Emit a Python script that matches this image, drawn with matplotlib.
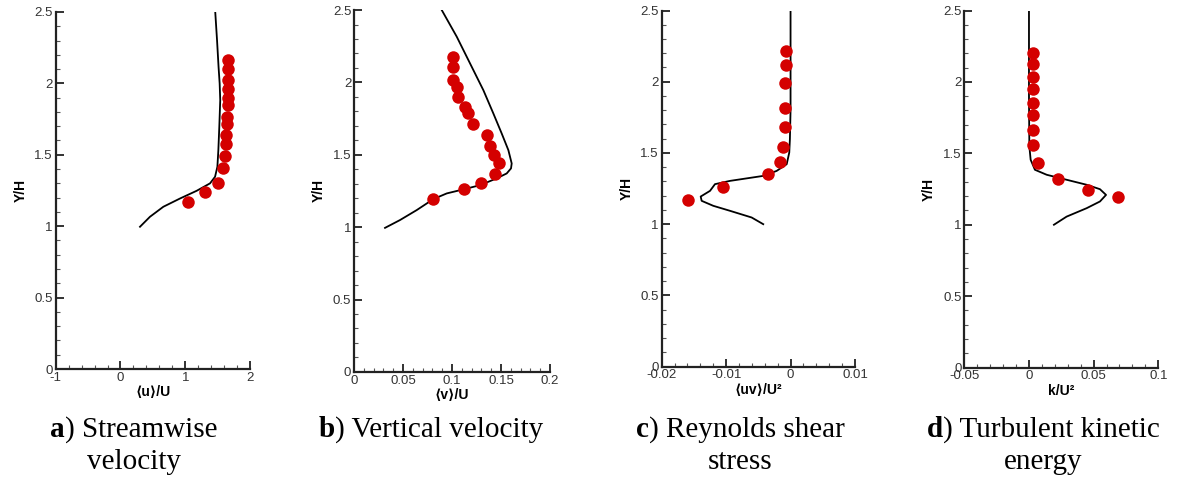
import numpy as np
import matplotlib
matplotlib.use("Agg")
import matplotlib.pyplot as plt
from matplotlib.ticker import MultipleLocator

plt.rcParams['font.family'] = ['Liberation Sans', 'DejaVu Sans']

# a) streamwise velocity
u_exp_x = [1.657, 1.657, 1.657, 1.657, 1.657, 1.657, 1.642, 1.642, 1.626, 1.626, 1.606, 1.575, 1.498, 1.302, 1.045]
u_exp_y = [2.167, 2.104, 2.027, 1.964, 1.901, 1.848, 1.767, 1.715, 1.638, 1.573, 1.494, 1.405, 1.305, 1.240, 1.172]
u_sim_x = [0.301, 0.455, 0.661, 0.919, 1.176, 1.382, 1.459, 1.495, 1.510, 1.525, 1.539, 1.530, 1.513, 1.490, 1.462]
u_sim_y = [0.996, 1.066, 1.136, 1.194, 1.248, 1.300, 1.346, 1.416, 1.532, 1.70, 1.883, 2.00, 2.116, 2.30, 2.50]

# b) vertical velocity
v_exp_x = [0.1007, 0.1014, 0.1007, 0.1048, 0.1058, 0.1133, 0.1160, 0.1211, 0.1354, 0.1388, 0.1429, 0.1483, 0.1439, 0.1293, 0.1122, 0.0810]
v_exp_y = [2.177, 2.108, 2.016, 1.965, 1.901, 1.832, 1.786, 1.712, 1.636, 1.562, 1.498, 1.440, 1.366, 1.306, 1.267, 1.194]
v_sim_x = [0.0316, 0.0469, 0.0640, 0.0810, 0.0946, 0.1116, 0.1286, 0.1456, 0.1558, 0.1602, 0.1609, 0.1575, 0.1507, 0.1422, 0.1320, 0.1184, 0.1048, 0.0895]
v_sim_y = [0.995, 1.049, 1.118, 1.194, 1.233, 1.261, 1.290, 1.337, 1.371, 1.406, 1.440, 1.532, 1.647, 1.785, 1.946, 2.131, 2.316, 2.50]

# c) Reynolds shear stress
uv_exp_x = [-0.00071, -0.00071, -0.00081, -0.00086, -0.00086, -0.00123, -0.00164, -0.00345, -0.01053, -0.01586]
uv_exp_y = [2.219, 2.118, 1.990, 1.814, 1.685, 1.545, 1.440, 1.353, 1.264, 1.170]
uv_sim_x = [-0.00424, -0.00604, -0.00941, -0.0120, -0.0138, -0.01395, -0.0125, -0.01173, -0.0094, -0.00424, -0.00216, -0.0006, -0.0002, -0.0001, 0.0, 0.0]
uv_sim_y = [1.0, 1.047, 1.094, 1.129, 1.164, 1.194, 1.234, 1.281, 1.304, 1.339, 1.374, 1.421, 1.503, 1.598, 1.80, 2.50]

# d) turbulent kinetic energy
k_exp_x = [0.0034, 0.0034, 0.0034, 0.0034, 0.0034, 0.0034, 0.0034, 0.0034, 0.0072, 0.0222, 0.0454, 0.0691]
k_exp_y = [2.201, 2.124, 2.038, 1.949, 1.851, 1.769, 1.664, 1.559, 1.431, 1.319, 1.244, 1.197]
k_sim_x = [0.0193, 0.0291, 0.0446, 0.0549, 0.0596, 0.0549, 0.0446, 0.0291, 0.0137, 0.0046, 0.0013, 0.0003, 0.0, 0.0]
k_sim_y = [1.0, 1.057, 1.116, 1.163, 1.209, 1.249, 1.280, 1.315, 1.350, 1.385, 1.455, 1.548, 1.90, 2.50]

panels = [
    (u_sim_x, u_sim_y, u_exp_x, u_exp_y, (-1, 2), 1, 0.2, "\u27e8u\u27e9/U", "Streamwise\nvelocity", "a"),
    (v_sim_x, v_sim_y, v_exp_x, v_exp_y, (0, 0.2), 0.05, 0.01, "\u27e8v\u27e9/U", "Vertical velocity", "b"),
    (uv_sim_x, uv_sim_y, uv_exp_x, uv_exp_y, (-0.02, 0.01), 0.01, 0.002, "\u27e8uv\u27e9/U\u00b2", "Reynolds shear\nstress", "c"),
    (k_sim_x, k_sim_y, k_exp_x, k_exp_y, (-0.05, 0.1), 0.05, 0.01, "k/U\u00b2", "Turbulent kinetic\nenergy", "d"),
]
rects = [
    [0.0473, 0.228, 0.1652, 0.747],
    [0.3008, 0.222, 0.1665, 0.757],
    [0.5622, 0.233, 0.1642, 0.745],
    [0.8193, 0.231, 0.1648, 0.747],
]
caption_x = [134, 431, 740, 1043]
CAP = 21

fig = plt.figure(figsize=(11.77, 4.78), dpi=100)
rend = fig.canvas.get_renderer()
for (sx, sy, ex, ey, xl, maj, mnr, xlab, cap, letter), r, cx in zip(panels, rects, caption_x):
    ax = fig.add_axes(r)
    ax.plot(sx, sy, color='black', lw=1.3, zorder=2)
    ax.plot(ex, ey, 'o', color='#d40000', ms=9, mec='none', zorder=3)
    ax.set_xlim(*xl)
    ax.set_ylim(0, 2.5)
    ax.xaxis.set_major_locator(MultipleLocator(maj))
    ax.xaxis.set_minor_locator(MultipleLocator(mnr))
    ax.yaxis.set_major_locator(MultipleLocator(0.5))
    ax.yaxis.set_minor_locator(MultipleLocator(0.1))
    ax.xaxis.set_major_formatter(plt.FuncFormatter(lambda v, p: f"{v:g}"))
    ax.yaxis.set_major_formatter(plt.FuncFormatter(lambda v, p: f"{v:g}"))
    for s in ['top', 'right']:
        ax.spines[s].set_visible(False)
    for s in ['left', 'bottom']:
        ax.spines[s].set_linewidth(1.6)
        ax.spines[s].set_color('#222222')
    ax.tick_params(which='major', direction='in', length=6, width=1.3, labelsize=9.5,
                   colors='#222222', labelcolor='#333333', pad=2)
    ax.tick_params(which='minor', direction='in', length=3, width=0.8, colors='#555555')
    ax.set_xlabel(xlab, fontsize=10, fontweight='bold', labelpad=1)
    ax.set_ylabel("Y/H", fontsize=10, fontweight='bold', labelpad=5)
    ax.patch.set_visible(False)

    # caption: bold letter, normal text, centred under the panel
    lines = cap.split("\n")
    first = ") " + lines[0]
    y1 = 1 - 437 / 478
    t1 = fig.text(0, y1, letter, fontsize=CAP, family='Liberation Serif',
                  fontweight='bold', ha='left', va='baseline')
    t2 = fig.text(0, y1, first, fontsize=CAP, family='Liberation Serif',
                  ha='left', va='baseline')
    w1 = t1.get_window_extent(rend).width
    w2 = t2.get_window_extent(rend).width
    left = cx - (w1 + w2) / 2
    t1.set_x(left / 1177)
    t2.set_x((left + w1) / 1177)
    if len(lines) > 1:
        fig.text(cx / 1177, 1 - 469 / 478, lines[1], fontsize=CAP, family='Liberation Serif',
                 ha='center', va='baseline')

fig.savefig("out.png", dpi=100)
